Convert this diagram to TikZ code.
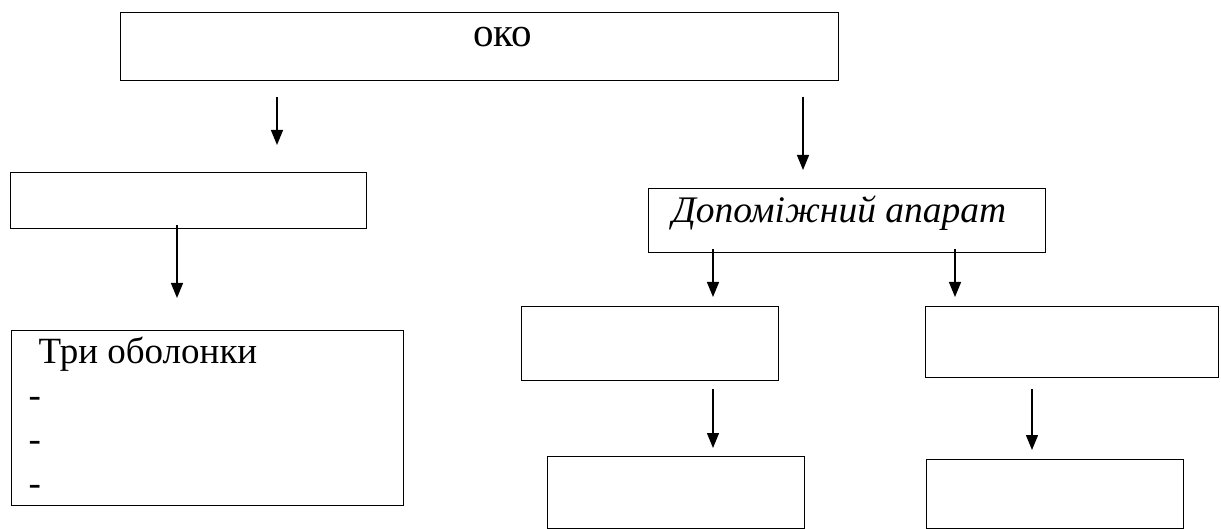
\documentclass[tikz,border=0pt]{standalone}
\usepackage{fontspec}
\setmainfont{Liberation Serif}
\usetikzlibrary{arrows.meta}
\begin{document}
\begin{tikzpicture}[x=1pt,y=-1pt,>={Triangle[width=12pt,length=15pt]},line width=1.3pt,
    box/.style={draw,inner sep=0pt,anchor=north west},
    big text/.style={font=\fontsize{37}{44}\selectfont}]
    \useasboundingbox (0,0) rectangle (1221,529);

    \node[box,minimum width=718pt,minimum height=68pt,font=\fontsize{41}{48}\selectfont,text height=12pt,text depth=12pt] (1) at (120,12) {\hspace*{46pt}око};
    \node[box,minimum width=356pt,minimum height=56pt] (2) at (10,172) {};
    \node[box,big text] (3) at (11,330) {\parbox[t][175pt][t]{392pt}{\vspace*{6.5pt}\hspace*{27pt}Три оболонки\\\hspace*{17pt}-\\\hspace*{17pt}-\\\hspace*{17pt}-}};
    \node[box,minimum width=397pt,minimum height=64pt,font=\fontsize{37.5}{44}\selectfont\itshape,text height=14pt,text depth=10pt] (4) at (648,188) {\hspace*{-16pt}Допоміжний апарат};
    \node[box,minimum width=257pt,minimum height=74pt] (5) at (521,306) {};
    \node[box,minimum width=293pt,minimum height=71pt] (6) at (925,306) {};
    \node[box,minimum width=257pt,minimum height=72pt] (7) at (547,456) {};
    \node[box,minimum width=257pt,minimum height=69pt] (8) at (926,459) {};

    % arrow ends
    \coordinate (a1) at (277,97);   \coordinate (a2) at (277,145);
    \coordinate (b1) at (803,97);   \coordinate (b2) at (803,170);
    \coordinate (c1) at (177,225);  \coordinate (c2) at (177,298);
    \coordinate (d1) at (713,249);  \coordinate (d2) at (713,297);
    \coordinate (e1) at (955,249);  \coordinate (e2) at (955,297);
    \coordinate (f1) at (713,389);  \coordinate (f2) at (713,448);
    \coordinate (g1) at (1032,389); \coordinate (g2) at (1032,450);

    \path[->]
        (a1) edge (a2)
        (b1) edge (b2)
        (c1) edge (c2)
        (d1) edge (d2)
        (e1) edge (e2)
        (f1) edge (f2)
        (g1) edge (g2);
\end{tikzpicture}
\end{document}
